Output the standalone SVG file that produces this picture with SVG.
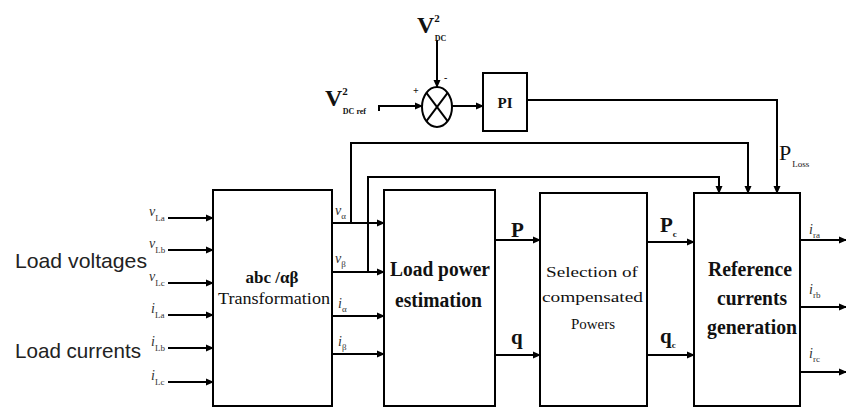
<svg xmlns="http://www.w3.org/2000/svg" width="846" height="408" viewBox="0 0 846 408">
<defs>
<marker id="ah" markerWidth="8" markerHeight="8" refX="7" refY="4" orient="auto" markerUnits="userSpaceOnUse">
<path d="M0,0.5 L8,4 L0,7.5 Z" fill="#000"/>
</marker>
<style>
.box{fill:#fff;stroke:#000;stroke-width:2}
.ln{fill:none;stroke:#000;stroke-width:2}
.sans{font-family:"Liberation Sans",Arial,sans-serif;fill:#222}
.ser{font-family:"Liberation Serif","Times New Roman",serif;fill:#111}
.b{font-weight:bold}
.lbl{font-family:"Liberation Serif","Times New Roman",serif;font-size:14px;font-style:italic;fill:#333}
.sub{font-size:9px;font-style:normal}
</style>
</defs>
<rect width="846" height="408" fill="#fff"/>

<g id="connectors">
<line class="ln" x1="168" y1="218" x2="213" y2="218" marker-end="url(#ah)"/>
<line class="ln" x1="168" y1="250" x2="213" y2="250" marker-end="url(#ah)"/>
<line class="ln" x1="168" y1="283" x2="213" y2="283" marker-end="url(#ah)"/>
<line class="ln" x1="168" y1="315" x2="213" y2="315" marker-end="url(#ah)"/>
<line class="ln" x1="168" y1="348" x2="213" y2="348" marker-end="url(#ah)"/>
<line class="ln" x1="168" y1="382" x2="213" y2="382" marker-end="url(#ah)"/>
<line class="ln" x1="332" y1="223" x2="384" y2="223" marker-end="url(#ah)"/>
<line class="ln" x1="332" y1="272" x2="384" y2="272" marker-end="url(#ah)"/>
<line class="ln" x1="332" y1="316" x2="384" y2="316" marker-end="url(#ah)"/>
<line class="ln" x1="332" y1="354" x2="384" y2="354" marker-end="url(#ah)"/>
<line class="ln" x1="495" y1="240" x2="540" y2="240" marker-end="url(#ah)"/>
<line class="ln" x1="495" y1="355" x2="540" y2="355" marker-end="url(#ah)"/>
<line class="ln" x1="647" y1="242" x2="694" y2="242" marker-end="url(#ah)"/>
<line class="ln" x1="647" y1="355" x2="694" y2="355" marker-end="url(#ah)"/>
<line class="ln" x1="800" y1="240" x2="846" y2="240" marker-end="url(#ah)"/>
<line class="ln" x1="800" y1="307" x2="846" y2="307" marker-end="url(#ah)"/>
<line class="ln" x1="800" y1="372" x2="846" y2="372" marker-end="url(#ah)"/>
<polyline class="ln" points="351,223 351,143 748,143 748,193" marker-end="url(#ah)"/>
<polyline class="ln" points="368,272 368,177 719,177 719,193" marker-end="url(#ah)"/>
<polyline class="ln" points="527,100 777,100 777,193" marker-end="url(#ah)"/>
<line class="ln" x1="437" y1="40" x2="437" y2="87" marker-end="url(#ah)"/>
<polyline class="ln" points="379,111 379,106 422,106" marker-end="url(#ah)"/>
<line class="ln" x1="452" y1="106" x2="483" y2="106" marker-end="url(#ah)"/>
</g>

<g id="sum">
<ellipse cx="437" cy="107" rx="15" ry="20" fill="#fff" stroke="#000" stroke-width="2"/>
<line class="ln" x1="426.4" y1="92.9" x2="447.6" y2="121.1" stroke-width="1.5"/>
<line class="ln" x1="447.6" y1="92.9" x2="426.4" y2="121.1" stroke-width="1.5"/>
<text class="ser b" x="413" y="94" font-size="10">+</text>
<text class="ser b" x="444" y="81" font-size="10">-</text>
</g>

<g id="pi">
<rect class="box" x="483" y="73" width="44" height="58"/>
<text class="ser b" x="505" y="108" font-size="15" text-anchor="middle">PI</text>
</g>

<g id="abc">
<rect class="box" x="213" y="190" width="119" height="216"/>
<text class="ser b" x="272" y="283" font-size="17" text-anchor="middle">abc /αβ</text>
<text class="ser" x="218" y="304" font-size="16" textLength="112" lengthAdjust="spacingAndGlyphs">Transformation</text>
</g>

<g id="loadpower">
<rect class="box" x="384" y="190" width="111" height="216"/>
<text class="ser b" x="390" y="276" font-size="20" textLength="100" lengthAdjust="spacingAndGlyphs">Load power</text>
<text class="ser b" x="395" y="307" font-size="20" textLength="87" lengthAdjust="spacingAndGlyphs">estimation</text>
</g>

<g id="selection">
<rect class="box" x="540" y="193" width="107" height="213"/>
<text class="ser" x="546" y="277" font-size="15" textLength="92" lengthAdjust="spacingAndGlyphs">Selection of</text>
<text class="ser" x="542" y="302" font-size="15" textLength="101" lengthAdjust="spacingAndGlyphs">compensated</text>
<text class="ser" x="593" y="329" font-size="15" text-anchor="middle">Powers</text>
</g>

<g id="reference">
<rect class="box" x="694" y="193" width="106" height="213"/>
<text class="ser b" x="708" y="276" font-size="20" textLength="84" lengthAdjust="spacingAndGlyphs">Reference</text>
<text class="ser b" x="717" y="305" font-size="20" textLength="70" lengthAdjust="spacingAndGlyphs">currents</text>
<text class="ser b" x="707" y="334" font-size="20" textLength="90" lengthAdjust="spacingAndGlyphs">generation</text>
</g>

<g id="labels">
<text class="sans" x="15" y="268" font-size="21" textLength="132" lengthAdjust="spacingAndGlyphs">Load voltages</text>
<text class="sans" x="15" y="358" font-size="21" textLength="126" lengthAdjust="spacingAndGlyphs">Load currents</text>

<text class="lbl" x="149" y="216">v<tspan class="sub" dy="5">La</tspan></text>
<text class="lbl" x="149" y="248">v<tspan class="sub" dy="5">Lb</tspan></text>
<text class="lbl" x="149" y="281">v<tspan class="sub" dy="5">Lc</tspan></text>
<text class="lbl" x="151" y="313">i<tspan class="sub" dy="5">La</tspan></text>
<text class="lbl" x="151" y="346">i<tspan class="sub" dy="5">Lb</tspan></text>
<text class="lbl" x="151" y="380">i<tspan class="sub" dy="5">Lc</tspan></text>

<text class="lbl" x="335" y="215">v<tspan class="sub" dy="4">α</tspan></text>
<text class="lbl" x="335" y="263">v<tspan class="sub" dy="4">β</tspan></text>
<text class="lbl" x="338" y="308">i<tspan class="sub" dy="4">α</tspan></text>
<text class="lbl" x="338" y="346">i<tspan class="sub" dy="4">β</tspan></text>

<text class="ser b" x="511" y="237" font-size="21">P</text>
<text class="ser b" x="511" y="344" font-size="21">q</text>
<text class="ser b" x="660" y="232" font-size="21">P<tspan class="sub" dy="5">c</tspan></text>
<text class="ser b" x="660" y="343" font-size="21">q<tspan class="sub" dy="5">c</tspan></text>

<text class="lbl" x="809" y="234">i<tspan class="sub" dy="4">ra</tspan></text>
<text class="lbl" x="809" y="294">i<tspan class="sub" dy="4">rb</tspan></text>
<text class="lbl" x="809" y="358">i<tspan class="sub" dy="4">rc</tspan></text>

<text class="ser b" x="417" y="33" font-size="24">V<tspan font-size="11" dy="-11">2</tspan><tspan font-size="8" dx="-5" dy="19">DC</tspan></text>
<text class="ser b" x="325" y="106" font-size="24">V<tspan font-size="11" dy="-11">2</tspan><tspan font-size="8" dx="-5" dy="19">DC ref</tspan></text>
<text class="ser" x="779" y="160" font-size="22">P<tspan font-size="9" dy="7" dx="1">Loss</tspan></text>
</g>
</svg>
